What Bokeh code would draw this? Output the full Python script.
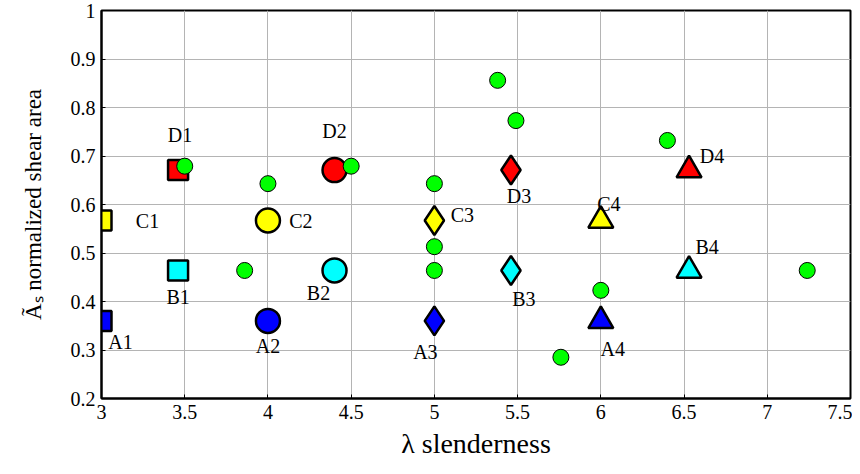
from bokeh.plotting import figure
from bokeh.models import ColumnDataSource, FixedTicker, Range1d
from bokeh.core.properties import value
from bokeh.embed import file_html
from bokeh.resources import INLINE

# ---- data ----
labels = ["A1", "B1", "C1", "D1",
          "A2", "B2", "C2", "D2",
          "A3", "B3", "C3", "D3",
          "A4", "B4", "C4", "D4"]
lam = [3.0, 3.46, 3.0, 3.46,
       4.0, 4.40, 4.0, 4.40,
       5.0, 5.46, 5.0, 5.46,
       6.0, 6.53, 6.0, 6.53]
area = [0.36, 0.464, 0.567, 0.671,
        0.36, 0.464, 0.567, 0.671,
        0.36, 0.464, 0.567, 0.671,
        0.36, 0.464, 0.567, 0.671]
green_lam = [3.5, 4.0, 3.86, 4.5, 5.38, 5.49, 5.0, 5.0, 5.0, 6.0, 5.76, 6.4, 7.24]
green_area = [0.679, 0.643, 0.464, 0.679, 0.856, 0.773, 0.643, 0.513, 0.464, 0.423, 0.285, 0.732, 0.464]

x_ticks = [3, 3.5, 4, 4.5, 5, 5.5, 6, 6.5, 7, 7.5]
x_tick_labels = ["3", "3.5", "4", "4.5", "5", "5.5", "6", "6.5", "7", "7.5"]
y_ticks = [0.2, 0.3, 0.4, 0.5, 0.6, 0.7, 0.8, 0.9, 1.0]
y_tick_labels = ["0.2", "0.3", "0.4", "0.5", "0.6", "0.7", "0.8", "0.9", "1"]

# styles per group
series_colors = {"A": "#0000FF", "B": "#00FFFF", "C": "#FFFF00", "D": "#FF0000"}
group_markers = {"1": ("square", 20), "2": ("circle", 24), "3": ("diamond", 29), "4": ("triangle", 25)}
label_dx = [19, 0, 46, 2, 0, -16, 33, 0, -9, 13, 28, 8, 12, 18, 8, 23]
label_dy = [21, 27, 0, -35, 25, 23, 0, -39, 31, 29, -6, 26, 28, -23, -17, -14]

FONT = "Liberation Serif"
AXFONT = "'Liberation Serif', serif"

p = figure(width=852, height=466, x_range=Range1d(3.0, 7.5), y_range=Range1d(0.2, 1.0),
           output_backend="svg", toolbar_location=None,
           min_border_left=101, min_border_right=2, min_border_top=10, min_border_bottom=68)
p.background_fill_color = "white"
p.border_fill_color = "white"
p.outline_line_color = "black"
p.outline_line_width = 2

for ax in (p.xaxis[0], p.yaxis[0]):
    ax.major_tick_in = 4
    ax.major_tick_out = 0
    ax.minor_tick_in = 0
    ax.minor_tick_out = 0
    ax.axis_line_width = 2
    ax.axis_line_color = "black"
    ax.major_label_text_font = AXFONT
    ax.major_label_text_font_size = "20px"
    ax.major_label_text_color = "black"
    ax.axis_label_text_font = AXFONT
    ax.axis_label_text_font_style = "normal"
    ax.axis_label_text_color = "black"

p.xaxis.axis_label_text_font_size = "28px"
p.yaxis.axis_label_text_font_size = "23px"
p.xaxis.ticker = FixedTicker(ticks=x_ticks)
p.xaxis.major_label_overrides = dict(zip(x_ticks, x_tick_labels))
p.yaxis.ticker = FixedTicker(ticks=y_ticks)
p.yaxis.major_label_overrides = dict(zip(y_ticks, y_tick_labels))
p.xaxis.axis_label = "\u03bb slenderness"
p.yaxis.axis_label = "\u00c3\u209b normalized shear area"
p.xaxis.major_label_standoff = 6
p.yaxis.major_label_standoff = 6
p.xaxis.axis_label_standoff = 6
p.yaxis.axis_label_standoff = 22

p.xgrid.ticker = FixedTicker(ticks=x_ticks)
p.ygrid.ticker = FixedTicker(ticks=y_ticks)
p.grid.grid_line_color = "#b4b4b4"
p.grid.grid_line_width = 1

# main markers
for i, lab in enumerate(labels):
    marker, size = group_markers[lab[1]]
    p.scatter([lam[i]], [area[i]], marker=marker, size=size,
              fill_color=series_colors[lab[0]], line_color="black", line_width=2.5)

src = ColumnDataSource(dict(x=lam, y=area, t=labels, dx=label_dx, dy=label_dy))
p.text(x="x", y="y", text="t", x_offset="dx", y_offset="dy", source=src,
       text_font=value(FONT), text_font_size="20px", text_color="black",
       text_align="center", text_baseline="middle")

# green circles (drawn last, on top)
p.scatter(green_lam, green_area, marker="circle", size=16,
          fill_color="#00FF00", line_color="black", line_width=1)

open("out.html", "w").write(file_html(p, INLINE))
